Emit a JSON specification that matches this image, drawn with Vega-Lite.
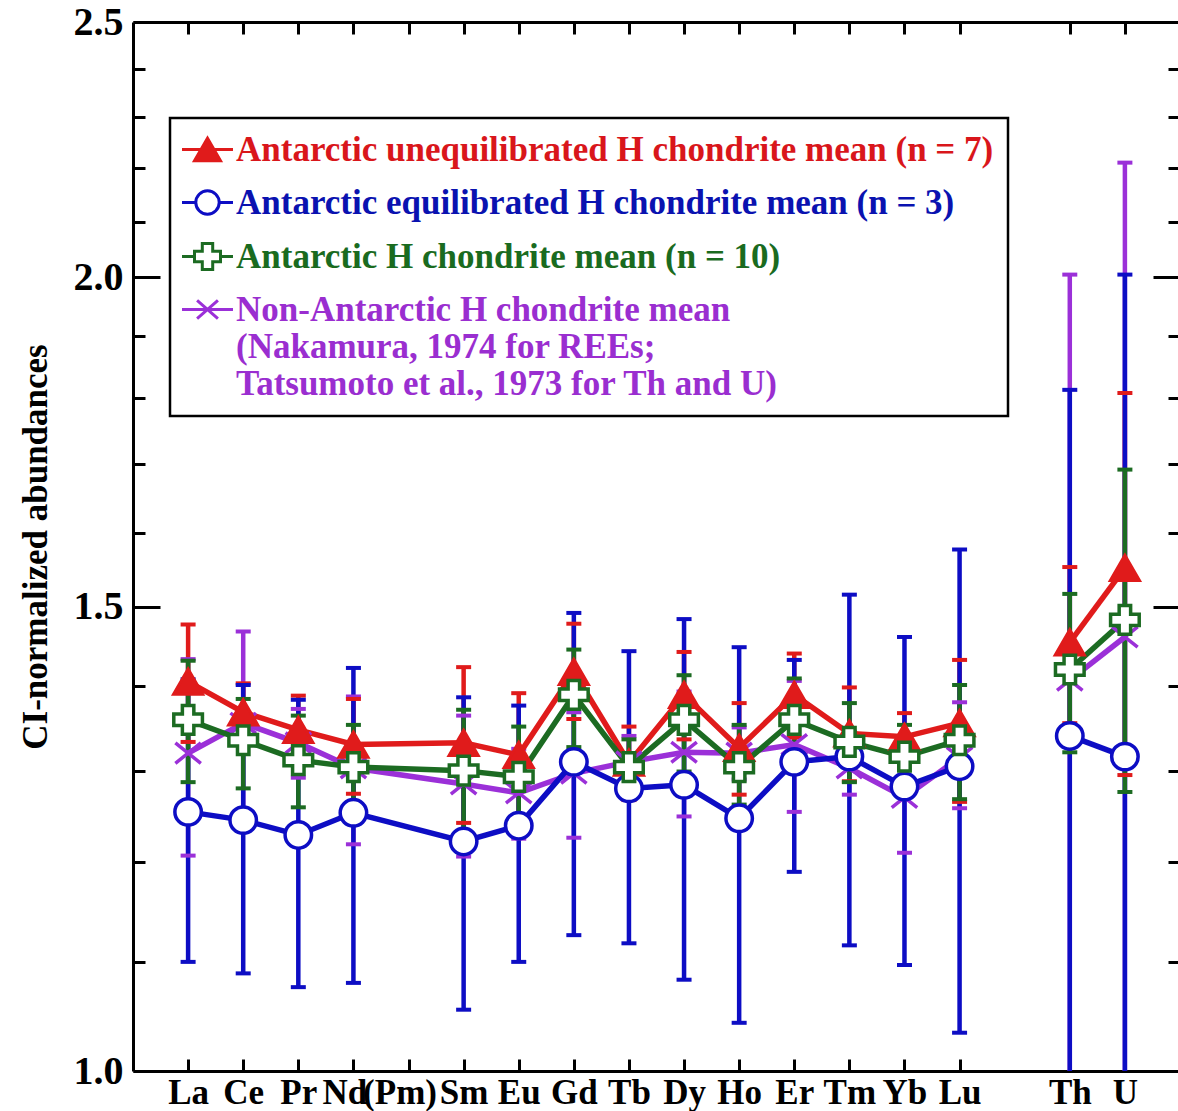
{
  "$schema": "https://vega.github.io/schema/vega-lite/v6.json",
  "width": 1047,
  "height": 1049,
  "autosize": {"type": "none"},
  "padding": {"left": 133, "top": 22, "right": 0, "bottom": 40},
  "background": "white",
  "config": {"view": {"stroke": null}, "font": "Liberation Serif", "legend": {"strokeWidth": 2.5}},
  "data": {"values": [
    {"s":"D","el":"La","i":1,"g":"R","v":1.320,"lo":1.207,"hi":1.433},
    {"s":"D","el":"Ce","i":2,"g":"R","v":1.355,"lo":1.242,"hi":1.468},
    {"s":"D","el":"Pr","i":3,"g":"R","v":1.332,"lo":1.292,"hi":1.372},
    {"s":"D","el":"Nd","i":4,"g":"R","v":1.303,"lo":1.219,"hi":1.387},
    {"s":"D","el":"Sm","i":6,"g":"R","v":1.285,"lo":1.206,"hi":1.364},
    {"s":"D","el":"Eu","i":7,"g":"R","v":1.275,"lo":1.225,"hi":1.325},
    {"s":"D","el":"Gd","i":8,"g":"R","v":1.297,"lo":1.226,"hi":1.368},
    {"s":"D","el":"Tb","i":9,"g":"R","v":1.310,"lo":1.280,"hi":1.340},
    {"s":"D","el":"Dy","i":10,"g":"R","v":1.321,"lo":1.249,"hi":1.393},
    {"s":"D","el":"Ho","i":11,"g":"R","v":1.320,"lo":1.290,"hi":1.350},
    {"s":"D","el":"Er","i":12,"g":"R","v":1.330,"lo":1.254,"hi":1.406},
    {"s":"D","el":"Tm","i":13,"g":"R","v":1.303,"lo":1.273,"hi":1.333},
    {"s":"D","el":"Yb","i":14,"g":"R","v":1.270,"lo":1.210,"hi":1.330},
    {"s":"D","el":"Lu","i":15,"g":"R","v":1.315,"lo":1.258,"hi":1.380},
    {"s":"D","el":"Th","i":17,"g":"T","v":1.407,"lo":0.810,"hi":2.005},
    {"s":"D","el":"U","i":18,"g":"T","v":1.461,"lo":0.711,"hi":2.211},
    {"s":"A","el":"La","i":1,"g":"R","v":1.405,"lo":1.333,"hi":1.477},
    {"s":"A","el":"Ce","i":2,"g":"R","v":1.368,"lo":1.333,"hi":1.403},
    {"s":"A","el":"Pr","i":3,"g":"R","v":1.347,"lo":1.306,"hi":1.388},
    {"s":"A","el":"Nd","i":4,"g":"R","v":1.330,"lo":1.274,"hi":1.384},
    {"s":"A","el":"Sm","i":6,"g":"R","v":1.332,"lo":1.242,"hi":1.423},
    {"s":"A","el":"Eu","i":7,"g":"R","v":1.318,"lo":1.245,"hi":1.391},
    {"s":"A","el":"Gd","i":8,"g":"R","v":1.417,"lo":1.360,"hi":1.478},
    {"s":"A","el":"Tb","i":9,"g":"R","v":1.309,"lo":1.267,"hi":1.351},
    {"s":"A","el":"Dy","i":10,"g":"R","v":1.389,"lo":1.336,"hi":1.442},
    {"s":"A","el":"Ho","i":11,"g":"R","v":1.326,"lo":1.273,"hi":1.379},
    {"s":"A","el":"Er","i":12,"g":"R","v":1.389,"lo":1.338,"hi":1.440},
    {"s":"A","el":"Tm","i":13,"g":"R","v":1.343,"lo":1.288,"hi":1.398},
    {"s":"A","el":"Yb","i":14,"g":"R","v":1.339,"lo":1.311,"hi":1.367},
    {"s":"A","el":"Lu","i":15,"g":"R","v":1.355,"lo":1.265,"hi":1.432},
    {"s":"A","el":"Th","i":17,"g":"T","v":1.454,"lo":1.355,"hi":1.553},
    {"s":"A","el":"U","i":18,"g":"T","v":1.552,"lo":1.295,"hi":1.808},
    {"s":"B","el":"La","i":1,"g":"R","v":1.254,"lo":1.100,"hi":1.408},
    {"s":"B","el":"Ce","i":2,"g":"R","v":1.245,"lo":1.089,"hi":1.401},
    {"s":"B","el":"Pr","i":3,"g":"R","v":1.229,"lo":1.076,"hi":1.383},
    {"s":"B","el":"Nd","i":4,"g":"R","v":1.253,"lo":1.080,"hi":1.422},
    {"s":"B","el":"Sm","i":6,"g":"R","v":1.222,"lo":1.055,"hi":1.386},
    {"s":"B","el":"Eu","i":7,"g":"R","v":1.239,"lo":1.100,"hi":1.376},
    {"s":"B","el":"Gd","i":8,"g":"R","v":1.310,"lo":1.126,"hi":1.492},
    {"s":"B","el":"Tb","i":9,"g":"R","v":1.280,"lo":1.118,"hi":1.443},
    {"s":"B","el":"Dy","i":10,"g":"R","v":1.284,"lo":1.083,"hi":1.484},
    {"s":"B","el":"Ho","i":11,"g":"R","v":1.247,"lo":1.043,"hi":1.448},
    {"s":"B","el":"Er","i":12,"g":"R","v":1.310,"lo":1.190,"hi":1.432},
    {"s":"B","el":"Tm","i":13,"g":"R","v":1.316,"lo":1.116,"hi":1.516},
    {"s":"B","el":"Yb","i":14,"g":"R","v":1.282,"lo":1.097,"hi":1.461},
    {"s":"B","el":"Lu","i":15,"g":"R","v":1.305,"lo":1.034,"hi":1.577},
    {"s":"B","el":"Th","i":17,"g":"T","v":1.340,"lo":0.867,"hi":1.813},
    {"s":"B","el":"U","i":18,"g":"T","v":1.316,"lo":0.627,"hi":2.005},
    {"s":"C","el":"La","i":1,"g":"R","v":1.359,"lo":1.287,"hi":1.431},
    {"s":"C","el":"Ce","i":2,"g":"R","v":1.335,"lo":1.280,"hi":1.384},
    {"s":"C","el":"Pr","i":3,"g":"R","v":1.312,"lo":1.259,"hi":1.364},
    {"s":"C","el":"Nd","i":4,"g":"R","v":1.304,"lo":1.255,"hi":1.353},
    {"s":"C","el":"Sm","i":6,"g":"R","v":1.300,"lo":1.232,"hi":1.371},
    {"s":"C","el":"Eu","i":7,"g":"R","v":1.293,"lo":1.235,"hi":1.351},
    {"s":"C","el":"Gd","i":8,"g":"R","v":1.389,"lo":1.327,"hi":1.445},
    {"s":"C","el":"Tb","i":9,"g":"R","v":1.304,"lo":1.272,"hi":1.336},
    {"s":"C","el":"Dy","i":10,"g":"R","v":1.359,"lo":1.299,"hi":1.413},
    {"s":"C","el":"Ho","i":11,"g":"R","v":1.304,"lo":1.262,"hi":1.353},
    {"s":"C","el":"Er","i":12,"g":"R","v":1.359,"lo":1.309,"hi":1.409},
    {"s":"C","el":"Tm","i":13,"g":"R","v":1.333,"lo":1.287,"hi":1.379},
    {"s":"C","el":"Yb","i":14,"g":"R","v":1.316,"lo":1.279,"hi":1.353},
    {"s":"C","el":"Lu","i":15,"g":"R","v":1.335,"lo":1.268,"hi":1.401},
    {"s":"C","el":"Th","i":17,"g":"T","v":1.420,"lo":1.321,"hi":1.517},
    {"s":"C","el":"U","i":18,"g":"T","v":1.483,"lo":1.276,"hi":1.691}
  ]},
  "layer": [
    {
      "layer": [
        {
          "mark": {"type": "rule", "strokeWidth": 4.5, "clip": true},
          "encoding": {
            "x": {"field": "i", "type": "quantitative", "title": null,
              "scale": {"domain": [0, 19], "nice": false, "zero": false},
              "axis": {
                "orient": "bottom",
                "values": [1,2,3,4,5,6,7,8,9,10,11,12,13,14,15,17,18],
                "tickSize": -12, "tickWidth": 3, "tickColor": "black",
                "domainWidth": 3, "domainColor": "black", "grid": false,
                "labelExpr": "['','La','Ce','Pr','Nd','(Pm)','Sm','Eu','Gd','Tb','Dy','Ho','Er','Tm','Yb','Lu','','Th','U'][datum.value]",
                "labelOffset": {"condition": {"test": "datum.value == 4 || datum.value == 5", "value": -9}, "value": 0},
                "labelFont": "Liberation Serif", "labelFontWeight": "bold", "labelFontSize": 35,
                "labelColor": "black", "labelPadding": 16, "labelOverlap": false, "labelBound": false, "labelFlush": false
              }
            },
            "y": {"field": "lo", "type": "quantitative", "title": "CI-normalized abundances",
              "scale": {"type": "log", "domain": [1, 2.5], "nice": false},
              "axis": {
                "orient": "left",
                "values": [1,1.1,1.2,1.3,1.4,1.5,1.6,1.7,1.8,1.9,2,2.1,2.2,2.3,2.4,2.5],
                "tickSize": {"condition": {"test": "datum.value == 1 || datum.value == 1.5 || datum.value == 2 || datum.value == 2.5", "value": -27}, "value": -12},
                "tickWidth": 3, "tickColor": "black",
                "domainWidth": 3, "domainColor": "black", "grid": false,
                "labelExpr": "(datum.value == 1 || datum.value == 1.5 || datum.value == 2 || datum.value == 2.5) ? format(datum.value, '.1f') : ''",
                "labelFont": "Liberation Serif", "labelFontWeight": "bold", "labelFontSize": 40,
                "labelColor": "black", "labelPadding": 37, "labelOverlap": false, "labelBound": false, "labelFlush": false,
                "titleFont": "Liberation Serif", "titleFontWeight": "bold", "titleFontSize": 35,
                "titleColor": "black", "titlePadding": 20
              }
            },
            "y2": {"field": "hi"},
            "stroke": {"field": "s", "type": "nominal",
              "scale": {"domain": ["A","B","C","D"], "range": ["#e01b1b","#0d0dc4","#1c6b22","#9b30d8"]},
              "legend": {
                "orient": "none", "legendX": 37, "legendY": 96, "direction": "vertical",
                "title": null, "padding": 14,
                "fillColor": "white", "strokeColor": "black",
                "labelFont": "Liberation Serif", "labelFontWeight": "bold", "labelFontSize": 35, "labelLimit": 0,
                "labelColor": {"expr": "datum.value == 'A' ? '#d9161b' : datum.value == 'B' ? '#0a12b0' : datum.value == 'C' ? '#1a6b1f' : '#9a2ed0'"},
                "symbolType": {"expr": "datum.value == 'A' ? 'M-1.96,0H1.96M0,-0.87L1,0.87L-1,0.87ZM-0.9,0.7H0.9M-0.79,0.5H0.79M-0.67,0.3H0.67M-0.56,0.1H0.56M-0.44,-0.1H0.44M-0.33,-0.3H0.33M-0.21,-0.5H0.21M-0.1,-0.7H0.1' : datum.value == 'B' ? 'M-1.96,0H-0.9M0.9,0H1.96M0.9,0A0.9,0.9,0,1,1,-0.9,0A0.9,0.9,0,1,1,0.9,0Z' : datum.value == 'C' ? 'M-1.96,0H-1M1,0H1.96M-0.4,-1H0.4V-0.4H1V0.4H0.4V1H-0.4V0.4H-1V-0.4H-0.4Z' : 'M-1.96,0H1.96M-0.8,-0.7L0.8,0.7M-0.8,0.7L0.8,-0.7'"},
                "symbolFillColor": {"expr": "datum.value == 'A' ? '#e01b1b' : datum.value == 'D' ? 'transparent' : '#ffffff'"},
                "symbolSize": 676, "symbolStrokeWidth": 3, "symbolOpacity": 1,
                "symbolOffset": 6, "labelOffset": 11, "rowPadding": 16,
                "labelExpr": "datum.value == 'A' ? 'Antarctic unequilibrated H chondrite mean (n = 7)' : datum.value == 'B' ? 'Antarctic equilibrated H chondrite mean (n = 3)' : datum.value == 'C' ? 'Antarctic H chondrite mean (n = 10)' : ['Non-Antarctic H chondrite mean', '(Nakamura, 1974 for REEs;', 'Tatsumoto et al., 1973 for Th and U)']"
              }
            }
          }
        },
        {
          "mark": {"type": "point", "shape": "stroke", "size": 225, "strokeWidth": 4, "filled": false, "opacity": 1, "clip": true},
          "encoding": {
            "x": {"field": "i", "type": "quantitative", "title": null},
            "y": {"field": "lo", "type": "quantitative", "title": "CI-normalized abundances"},
            "stroke": {"field": "s", "type": "nominal"}
          }
        },
        {
          "mark": {"type": "point", "shape": "stroke", "size": 225, "strokeWidth": 4, "filled": false, "opacity": 1, "clip": true},
          "encoding": {
            "x": {"field": "i", "type": "quantitative", "title": null},
            "y": {"field": "hi", "type": "quantitative", "title": "CI-normalized abundances"},
            "stroke": {"field": "s", "type": "nominal"}
          }
        },
        {
          "mark": {"type": "line", "strokeWidth": 5.5, "clip": true},
          "encoding": {
            "x": {"field": "i", "type": "quantitative", "title": null},
            "y": {"field": "v", "type": "quantitative", "title": "CI-normalized abundances"},
            "stroke": {"field": "s", "type": "nominal"},
            "detail": {"field": "g", "type": "nominal"}
          }
        },
        {
          "transform": [{"filter": "datum.s == 'D'"}],
          "mark": {"type": "point", "shape": "M-1,-0.8L1,0.8M-1,0.8L1,-0.8", "size": 650, "filled": false, "fill": "transparent", "stroke": "#9b30d8", "strokeWidth": 3.5, "opacity": 1, "clip": true},
          "encoding": {
            "x": {"field": "i", "type": "quantitative", "title": null},
            "y": {"field": "v", "type": "quantitative", "title": "CI-normalized abundances"}
          }
        },
        {
          "transform": [{"filter": "datum.s == 'A'"}],
          "mark": {"type": "point", "shape": "triangle-up", "size": 850, "filled": false, "fill": "#e01b1b", "stroke": "#e01b1b", "strokeWidth": 3, "opacity": 1, "clip": true},
          "encoding": {
            "x": {"field": "i", "type": "quantitative", "title": null},
            "y": {"field": "v", "type": "quantitative", "title": "CI-normalized abundances"}
          }
        },
        {
          "transform": [{"filter": "datum.s == 'B'"}],
          "mark": {"type": "point", "shape": "circle", "size": 700, "filled": false, "fill": "#ffffff", "stroke": "#0d0dc4", "strokeWidth": 3.5, "opacity": 1, "clip": true},
          "encoding": {
            "x": {"field": "i", "type": "quantitative", "title": null},
            "y": {"field": "v", "type": "quantitative", "title": "CI-normalized abundances"}
          }
        },
        {
          "transform": [{"filter": "datum.s == 'C'"}],
          "mark": {"type": "point", "shape": "cross", "size": 820, "filled": false, "fill": "#ffffff", "stroke": "#1c6b22", "strokeWidth": 3.5, "opacity": 1, "clip": true},
          "encoding": {
            "x": {"field": "i", "type": "quantitative", "title": null},
            "y": {"field": "v", "type": "quantitative", "title": "CI-normalized abundances"}
          }
        }
      ]
    },
    {
      "mark": {"type": "point", "opacity": 0},
      "encoding": {
        "x": {"field": "i", "type": "quantitative", "title": null,
          "axis": {
            "orient": "top",
            "values": [1,2,3,4,5,6,7,8,9,10,11,12,13,14,15,17,18],
            "tickSize": -12, "tickWidth": 3, "tickColor": "black",
            "domainWidth": 3, "domainColor": "black", "grid": false, "labels": false
          }
        },
        "y": {"field": "v", "type": "quantitative", "title": null,
          "axis": {
            "orient": "right",
            "values": [1,1.1,1.2,1.3,1.4,1.5,1.6,1.7,1.8,1.9,2,2.1,2.2,2.3,2.4,2.5],
            "tickSize": {"condition": {"test": "datum.value == 1 || datum.value == 1.5 || datum.value == 2 || datum.value == 2.5", "value": -27}, "value": -12},
            "tickWidth": 3, "tickColor": "black",
            "domainWidth": 3, "domainColor": "black", "grid": false, "labels": false
          }
        }
      }
    }
  ],
  "resolve": {"axis": {"x": "independent", "y": "independent"}}
}
